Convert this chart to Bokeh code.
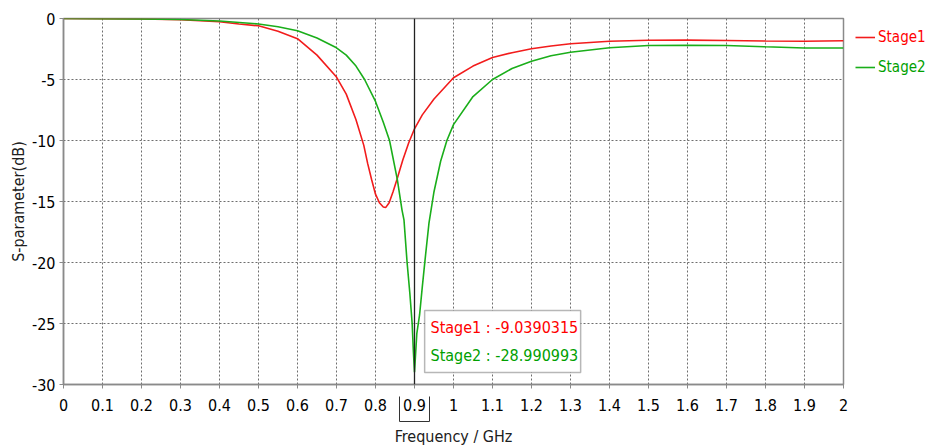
from bokeh.plotting import figure
from bokeh.layouts import row
from bokeh.models import (Legend, LegendItem, Label, BoxAnnotation, Span,
                          FixedTicker, Range1d, LinearAxis)
from bokeh.embed import file_html
from bokeh.resources import INLINE

# ---- data ----
freq1 = [0, 0.1, 0.2, 0.3, 0.4, 0.45, 0.5, 0.55, 0.6, 0.65, 0.7, 0.725, 0.75,
         0.77, 0.78, 0.79, 0.80, 0.81, 0.82, 0.826, 0.835, 0.845, 0.855, 0.87,
         0.885, 0.9, 0.92, 0.95, 1.0, 1.05, 1.1, 1.15, 1.2, 1.25, 1.3, 1.4,
         1.5, 1.6, 1.7, 1.8, 1.9, 2.0]
stage1 = [0, -0.01, -0.04, -0.1, -0.27, -0.45, -0.6, -1.04, -1.65, -3.0, -4.8,
          -6.2, -8.3, -10.4, -11.9, -13.2, -14.4, -15.1, -15.45, -15.5, -15.1,
          -14.2, -13.2, -11.6, -10.2, -9.04, -7.9, -6.6, -4.86, -3.9, -3.2,
          -2.8, -2.48, -2.25, -2.07, -1.86, -1.78, -1.77, -1.8, -1.85, -1.86,
          -1.82]

freq2 = [0, 0.1, 0.2, 0.3, 0.4, 0.5, 0.55, 0.6, 0.65, 0.7, 0.725, 0.75, 0.772,
         0.8, 0.82, 0.836, 0.856, 0.868, 0.873, 0.881, 0.888, 0.894, 0.897,
         0.9, 0.903, 0.906, 0.913, 0.92, 0.927, 0.937, 0.95, 0.967, 0.983, 1.0,
         1.05, 1.1, 1.15, 1.2, 1.25, 1.3, 1.4, 1.5, 1.6, 1.7, 1.8, 1.9, 2.0]
stage2 = [0, -0.01, -0.03, -0.08, -0.2, -0.45, -0.68, -1.0, -1.6, -2.4, -3.0,
          -3.9, -5.0, -6.8, -8.5, -10.0, -13.2, -15.7, -16.5, -20.0, -22.5,
          -25.0, -27.2, -28.99, -27.4, -25.8, -24.3, -22.0, -19.8, -16.8,
          -14.2, -11.7, -10.0, -8.7, -6.4, -5.0, -4.1, -3.5, -3.05, -2.76,
          -2.4, -2.21, -2.2, -2.21, -2.32, -2.42, -2.42]

series_names = ["Stage1", "Stage2"]
marker_freq = 0.9
marker_values = ["-9.0390315", "-28.990993"]

x_ticks = [0, 0.1, 0.2, 0.3, 0.4, 0.5, 0.6, 0.7, 0.8, 0.9, 1, 1.1, 1.2, 1.3,
           1.4, 1.5, 1.6, 1.7, 1.8, 1.9, 2]
x_tick_labels = ["0", "0.1", "0.2", "0.3", "0.4", "0.5", "0.6", "0.7", "0.8",
                 "0.9", "1", "1.1", "1.2", "1.3", "1.4", "1.5", "1.6", "1.7",
                 "1.8", "1.9", "2"]
y_ticks = [0, -5, -10, -15, -20, -25, -30]
y_tick_labels = ["0", "-5", "-10", "-15", "-20", "-25", "-30"]

RED = "#f21c1c"
GREEN = "#1aae1a"
RED_T = "#ff0000"
GREEN_T = "#00a000"
FONT = "DejaVu Sans Condensed, Liberation Sans"
FS = "16px"

TOP_B, FRAME_H, BOT_B = 18, 366, 59

p = figure(frame_width=780, frame_height=FRAME_H,
           min_border_left=63, min_border_right=8, min_border_top=TOP_B,
           min_border_bottom=BOT_B,
           x_range=Range1d(0, 2), y_range=Range1d(-30, 0),
           output_backend="svg", toolbar_location=None,
           background_fill_color="white", border_fill_color="white")

p.outline_line_color = "#8a8a8a"
p.outline_line_width = 1.5

for ax in (p.xaxis[0], p.yaxis[0]):
    ax.axis_line_color = "#8a8a8a"
    ax.axis_line_width = 1.5
    ax.major_tick_line_color = "#8a8a8a"
    ax.major_tick_out = 4
    ax.major_tick_in = 0
    ax.minor_tick_line_color = None
    ax.major_label_text_font = FONT
    ax.major_label_text_font_size = FS
    ax.major_label_text_color = "black"
    ax.axis_label_text_font = FONT
    ax.axis_label_text_font_size = FS
    ax.axis_label_text_font_style = "normal"
    ax.axis_label_text_color = "#202020"

p.xaxis.ticker = FixedTicker(ticks=x_ticks)
p.yaxis.ticker = FixedTicker(ticks=y_ticks)
p.xaxis.major_label_overrides = dict(zip(x_ticks, x_tick_labels))
p.yaxis.major_label_overrides = dict(zip(y_ticks, y_tick_labels))
p.xaxis.major_label_standoff = 10
# tiny blank title on the main x axis: leaves a small gap under the tick labels
p.xaxis.axis_label = " "
p.xaxis.axis_label_text_font_size = "1px"
p.xaxis.axis_label_standoff = 4
p.yaxis.axis_label = "S-parameter(dB)"
p.yaxis.major_label_standoff = 4
p.yaxis.axis_label_standoff = 1

# second axis below the tick labels: its bounded rule and upward ticks make
# the frame round the marker's tick label; it also carries the axis title
half_w = 0.0385
edges = [marker_freq - half_w, marker_freq + half_w]
ax_b = LinearAxis(ticker=FixedTicker(ticks=edges), bounds=tuple(edges),
                  axis_line_color="#333333", axis_line_width=1,
                  major_tick_line_color="#333333", major_tick_line_width=1,
                  major_tick_in=25, major_tick_out=0,
                  minor_tick_line_color=None,
                  major_label_text_font_size="1px", major_label_text_alpha=0,
                  major_label_standoff=0,
                  axis_label="Frequency / GHz", axis_label_standoff=5,
                  axis_label_text_font=FONT, axis_label_text_font_size=FS,
                  axis_label_text_font_style="normal",
                  axis_label_text_color="#202020")
p.add_layout(ax_b, "below")

for g in (p.xgrid[0], p.ygrid[0]):
    g.grid_line_color = "#6e6e6e"
    g.grid_line_dash = "2 2"
    g.grid_line_width = 1

r1 = p.line(freq1, stage1, line_color=RED, line_width=1.6)
r2 = p.line(freq2, stage2, line_color=GREEN, line_width=1.6)

# marker line
p.add_layout(Span(location=marker_freq, dimension="height",
                  line_color="#222222", line_width=1.3))

# marker read-out box
p.add_layout(BoxAnnotation(left=0.926, right=1.326, top=-23.93, bottom=-29.02,
                           fill_color="white", fill_alpha=1.0,
                           line_color="#111111", line_width=1.5))
for val, name, col, yy in [(marker_values[0], series_names[0], RED_T, -25.35),
                           (marker_values[1], series_names[1], GREEN_T, -27.62)]:
    p.add_layout(Label(x=0.941, y=yy, text=f"{name} : {val}",
                       text_font=FONT, text_font_size=FS, text_color=col,
                       text_align="left", text_baseline="middle"))

# ---- legend panel (own figure so each label keeps its colour) ----
lf = figure(width=77, height=TOP_B + FRAME_H + BOT_B, min_border=0,
            x_range=Range1d(10, 11), y_range=Range1d(10, 11),
            x_axis_location=None, y_axis_location=None,
            output_backend="svg", toolbar_location=None,
            background_fill_color="white", border_fill_color="white")
lf.outline_line_color = None
lf.grid.visible = False
d1 = lf.line(freq1, stage1, line_color=RED, line_width=1.6)
d2 = lf.line(freq2, stage2, line_color=GREEN, line_width=1.6)
gap = lf.line(freq2, stage2, line_alpha=0)
ROW_H = 30
legend_rows = [
    ([LegendItem(label=series_names[0], renderers=[d1])], RED_T),
    ([LegendItem(label=" ", renderers=[gap]),
      LegendItem(label=series_names[1], renderers=[d2])], GREEN_T),
]
for items, col in legend_rows:
    lg = Legend(items=items, location="top_left", padding=0, margin=4,
                spacing=0, glyph_width=20, glyph_height=ROW_H,
                label_height=ROW_H, label_standoff=3,
                label_text_font=FONT, label_text_font_size="15px",
                label_text_color=col, border_line_alpha=0,
                background_fill_alpha=0)
    lf.add_layout(lg, "center")

layout = row(p, lf, spacing=0)
open("out.html", "w").write(file_html(layout, INLINE))
